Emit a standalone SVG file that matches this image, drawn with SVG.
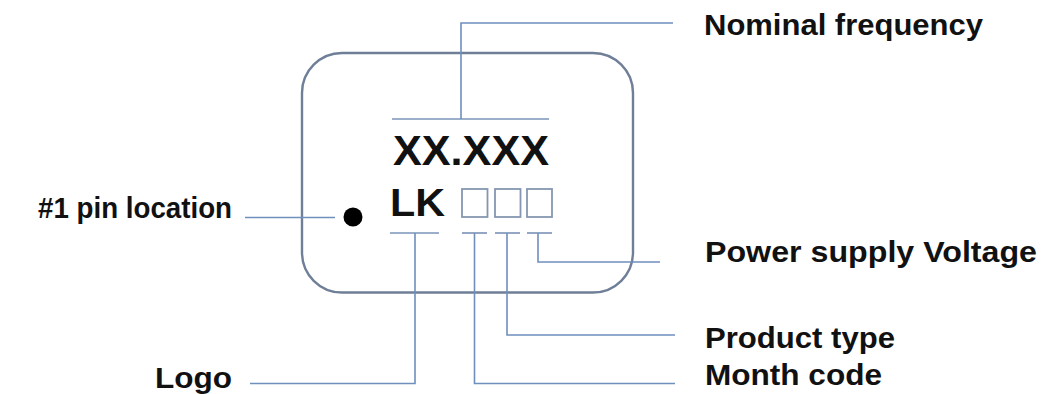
<svg xmlns="http://www.w3.org/2000/svg" width="1047" height="394" viewBox="0 0 1047 394">
<style>
.lbl{font-family:"Liberation Sans",Arial,sans-serif;font-weight:bold;font-size:30px;fill:#111;}
.lead{fill:none;stroke:#6f8fbd;stroke-width:1.6;}
.ul{fill:none;stroke:#7a93b8;stroke-width:1.6;}
.sq{fill:none;stroke:#8597b0;stroke-width:1.8;}
</style>
<rect width="1047" height="394" fill="#ffffff"/>
<g id="chip">
<rect x="302" y="53" width="331" height="239.5" rx="40" ry="40" fill="none" stroke="#6f7f97" stroke-width="2.4"/>
<line class="ul" x1="392" y1="119" x2="549" y2="119"/>
<text class="lbl" x="393" y="165" style="font-size:42px" textLength="156" lengthAdjust="spacingAndGlyphs">XX.XXX</text>
<text class="lbl" x="390" y="216" style="font-size:38px" textLength="55" lengthAdjust="spacingAndGlyphs">LK</text>
<rect class="sq" x="462" y="189" width="25.5" height="28"/>
<rect class="sq" x="495" y="189" width="25.5" height="28"/>
<rect class="sq" x="527" y="189" width="25" height="28"/>
<circle cx="353" cy="217" r="9.5" fill="#000"/>
<line class="ul" x1="390" y1="233" x2="439" y2="233"/>
<line class="ul" x1="462" y1="233" x2="487" y2="233"/>
<line class="ul" x1="495" y1="233" x2="520" y2="233"/>
<line class="ul" x1="527" y1="233" x2="552" y2="233"/>
</g>
<g id="connectors">
<polyline class="lead" points="461,119 461,23 673,23"/>
<line class="lead" x1="245" y1="217.5" x2="335" y2="217.5"/>
<polyline class="lead" points="538,233 538,262 660,262"/>
<polyline class="lead" points="507,233 507,335 675,335"/>
<polyline class="lead" points="474.5,233 474.5,383.5 675,383.5"/>
<polyline class="lead" points="415,233 415,383.5 250,383.5"/>
</g>
<g id="label-nominal"><text class="lbl" x="704" y="35" textLength="279" lengthAdjust="spacingAndGlyphs">Nominal frequency</text></g>
<g id="label-pin"><text class="lbl" x="38" y="218" textLength="194" lengthAdjust="spacingAndGlyphs">#1 pin location</text></g>
<g id="label-power"><text class="lbl" x="705" y="262" textLength="332" lengthAdjust="spacingAndGlyphs">Power supply Voltage</text></g>
<g id="label-product"><text class="lbl" x="705" y="348" textLength="190" lengthAdjust="spacingAndGlyphs">Product type</text></g>
<g id="label-month"><text class="lbl" x="705" y="385" textLength="177" lengthAdjust="spacingAndGlyphs">Month code</text></g>
<g id="label-logo"><text class="lbl" x="155" y="388" textLength="77" lengthAdjust="spacingAndGlyphs">Logo</text></g>
</svg>
